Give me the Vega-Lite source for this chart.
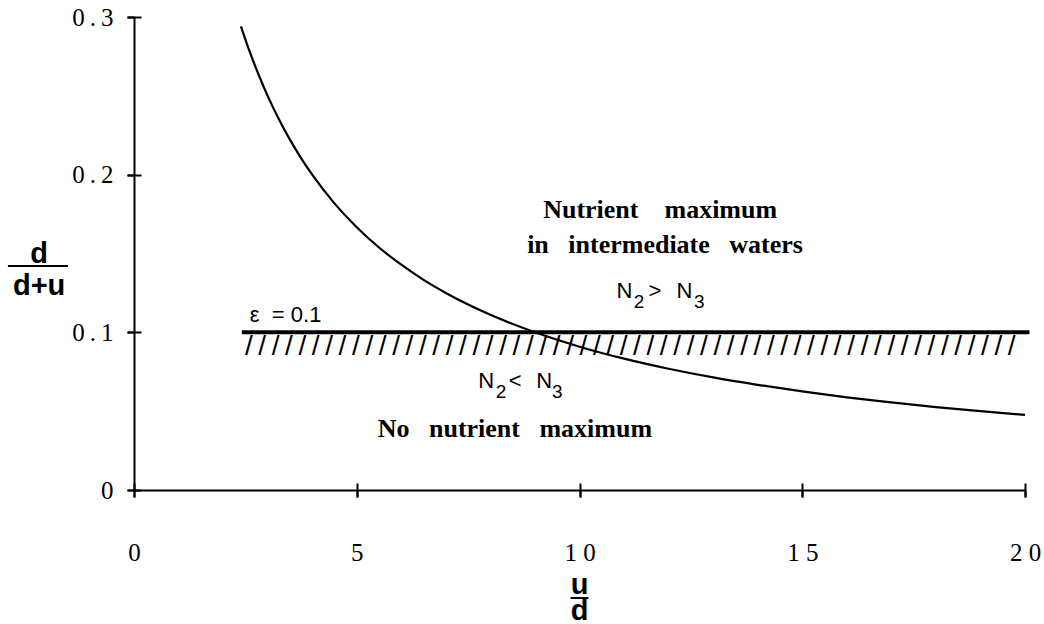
{
  "$schema": "https://vega.github.io/schema/vega-lite/v6.json",
  "width": 891,
  "height": 473,
  "autosize": "none",
  "padding": {"left": 134, "top": 17, "right": 19, "bottom": 134},
  "background": "white",
  "config": {
    "view": {"stroke": null},
    "axis": {"grid": false, "domainColor": "black", "tickColor": "black", "labelColor": "black"}
  },
  "datasets": {
    "curve": [
      {"u_over_d": 2.4, "ratio": 0.2941},
      {"u_over_d": 2.6, "ratio": 0.2778},
      {"u_over_d": 2.8, "ratio": 0.2632},
      {"u_over_d": 3.0, "ratio": 0.25},
      {"u_over_d": 3.25, "ratio": 0.2353},
      {"u_over_d": 3.5, "ratio": 0.2222},
      {"u_over_d": 3.75, "ratio": 0.2105},
      {"u_over_d": 4.0, "ratio": 0.2},
      {"u_over_d": 4.5, "ratio": 0.1818},
      {"u_over_d": 5.0, "ratio": 0.1667},
      {"u_over_d": 5.5, "ratio": 0.1538},
      {"u_over_d": 6.0, "ratio": 0.1429},
      {"u_over_d": 6.5, "ratio": 0.1333},
      {"u_over_d": 7.0, "ratio": 0.125},
      {"u_over_d": 7.5, "ratio": 0.1176},
      {"u_over_d": 8.0, "ratio": 0.1111},
      {"u_over_d": 9.0, "ratio": 0.1},
      {"u_over_d": 10.0, "ratio": 0.0909},
      {"u_over_d": 11.0, "ratio": 0.0833},
      {"u_over_d": 12.0, "ratio": 0.0769},
      {"u_over_d": 13.0, "ratio": 0.0714},
      {"u_over_d": 14.0, "ratio": 0.0667},
      {"u_over_d": 15.0, "ratio": 0.0625},
      {"u_over_d": 16.0, "ratio": 0.0588},
      {"u_over_d": 17.0, "ratio": 0.0556},
      {"u_over_d": 18.0, "ratio": 0.0526},
      {"u_over_d": 19.0, "ratio": 0.05},
      {"u_over_d": 20.0, "ratio": 0.0476}
    ],
    "threshold": [{"x": 2.42, "x2": 20.1, "y": 0.1}],
    "bars": [
      {"x": -2.83, "x2": -1.48, "y": 0.1421},
      {"x": 9.8, "x2": 10.2, "y": -0.0685}
    ],
    "notes": [
      {"kind": "region", "label": "Nutrient\u00a0\u00a0\u00a0\u00a0maximum", "x": 11.81, "y": 0.1725},
      {"kind": "region", "label": "in\u00a0\u00a0\u00a0intermediate\u00a0\u00a0\u00a0waters", "x": 11.92, "y": 0.1503},
      {"kind": "region", "label": "No\u00a0\u00a0\u00a0nutrient\u00a0\u00a0\u00a0maximum", "x": 8.55, "y": 0.0336},
      {"kind": "relation", "label": "N", "x": 10.83, "y": 0.1218},
      {"kind": "sub", "label": "2", "x": 11.22, "y": 0.1154},
      {"kind": "relation", "label": ">", "x": 11.55, "y": 0.1218},
      {"kind": "relation", "label": "N", "x": 12.18, "y": 0.1218},
      {"kind": "sub", "label": "3", "x": 12.57, "y": 0.1154},
      {"kind": "relation", "label": "N", "x": 7.73, "y": 0.0647},
      {"kind": "sub", "label": "2", "x": 8.12, "y": 0.0583},
      {"kind": "relation", "label": "<", "x": 8.41, "y": 0.0647},
      {"kind": "relation", "label": "N", "x": 9.03, "y": 0.0647},
      {"kind": "sub", "label": "3", "x": 9.38, "y": 0.0583},
      {"kind": "epsilon", "label": "\u03b5\u00a0\u00a0=\u00a00.1", "x": 2.6, "y": 0.1066},
      {"kind": "hatch", "label": "/\u2009/\u2009/\u2009/\u2009/\u2009/\u2009/\u2009/\u2009/\u2009/\u2009/\u2009/\u2009/\u2009/\u2009/\u2009/\u2009/\u2009/\u2009/\u2009/\u2009/\u2009/\u2009/\u2009/\u2009/\u2009/\u2009/\u2009/\u2009/\u2009/\u2009/\u2009/\u2009/\u2009/\u2009/\u2009/\u2009/\u2009/\u2009/\u2009/\u2009/\u2009/\u2009/\u2009/\u2009/\u2009/\u2009/\u2009/\u2009/\u2009/\u2009/\u2009/\u2009/\u2009/\u2009/\u2009/\u2009/\u2009/", "x": 2.49, "y": 0.0856},
      {"kind": "title", "label": "d", "x": -2.13, "y": 0.144},
      {"kind": "title", "label": "d+u", "x": -2.13, "y": 0.1237},
      {"kind": "title", "label": "u", "x": 10.0, "y": -0.066},
      {"kind": "title", "label": "d", "x": 10.0, "y": -0.0822}
    ]
  },
  "layer": [
    {
      "data": {"name": "curve"},
      "mark": {"type": "line", "color": "black", "strokeWidth": 2.2, "interpolate": "monotone"},
      "encoding": {
        "x": {
          "field": "u_over_d", "type": "quantitative",
          "scale": {"domain": [0, 20], "nice": false, "zero": true},
          "axis": {
            "orient": "bottom", "values": [0, 5, 10, 15, 20], "title": null,
            "domain": true, "domainWidth": 2, "ticks": true, "tickSize": 7, "tickWidth": 2,
            "labelFont": "Liberation Serif", "labelFontSize": 25, "labelPadding": 43,
            "labelFlush": false, "labelOverlap": false,
            "labelExpr": "datum.value >= 10 ? replace(datum.label, regexp('(.)(?=.)', 'g'), '$1 ') : datum.label"
          }
        },
        "y": {
          "field": "ratio", "type": "quantitative",
          "scale": {"domain": [0, 0.3], "nice": false, "zero": true},
          "axis": {
            "orient": "left", "values": [0, 0.1, 0.2, 0.3], "title": null,
            "domain": true, "domainWidth": 2, "ticks": true, "tickSize": 7, "tickWidth": 2,
            "labelFont": "Liberation Serif", "labelFontSize": 25, "labelPadding": 14,
            "labelFlush": false, "labelOverlap": false, "labelBaseline": "middle",
            "labelExpr": "datum.value == 0 ? '0' : '0\u2009.\u2009' + format(datum.value * 10, 'd')"
          }
        }
      }
    },
    {
      "data": {"name": "threshold"},
      "mark": {"type": "rule", "color": "black", "strokeWidth": 4, "strokeCap": "butt"},
      "encoding": {
        "x": {
          "field": "x", "type": "quantitative",
          "axis": {
            "orient": "bottom", "values": [0, 5, 10, 15, 20], "title": null,
            "domain": false, "labels": false, "ticks": true, "tickSize": 14, "tickWidth": 2, "offset": -7
          }
        },
        "x2": {"field": "x2"},
        "y": {
          "field": "y", "type": "quantitative",
          "axis": {
            "orient": "left", "values": [0, 0.1, 0.2, 0.3], "title": null,
            "domain": false, "labels": false, "ticks": true, "tickSize": 14, "tickWidth": 2, "offset": -7
          }
        }
      }
    },
    {
      "data": {"name": "bars"},
      "mark": {"type": "rule", "color": "black", "strokeWidth": 2},
      "encoding": {
        "x": {"field": "x", "type": "quantitative", "axis": null},
        "x2": {"field": "x2"},
        "y": {"field": "y", "type": "quantitative", "axis": null}
      }
    },
    {
      "data": {"name": "notes"},
      "transform": [{"filter": "datum.kind == 'region'"}],
      "mark": {"type": "text", "font": "Liberation Serif", "fontWeight": "bold", "fontSize": 26, "align": "center", "baseline": "alphabetic", "color": "black"},
      "encoding": {
        "x": {"field": "x", "type": "quantitative", "axis": null},
        "y": {"field": "y", "type": "quantitative", "axis": null},
        "text": {"field": "label"}
      }
    },
    {
      "data": {"name": "notes"},
      "transform": [{"filter": "datum.kind == 'relation'"}],
      "mark": {"type": "text", "font": "Liberation Sans", "fontSize": 22, "align": "left", "baseline": "alphabetic", "color": "black"},
      "encoding": {
        "x": {"field": "x", "type": "quantitative", "axis": null},
        "y": {"field": "y", "type": "quantitative", "axis": null},
        "text": {"field": "label"}
      }
    },
    {
      "data": {"name": "notes"},
      "transform": [{"filter": "datum.kind == 'sub'"}],
      "mark": {"type": "text", "font": "Liberation Sans", "fontSize": 19, "align": "left", "baseline": "alphabetic", "color": "black"},
      "encoding": {
        "x": {"field": "x", "type": "quantitative", "axis": null},
        "y": {"field": "y", "type": "quantitative", "axis": null},
        "text": {"field": "label"}
      }
    },
    {
      "data": {"name": "notes"},
      "transform": [{"filter": "datum.kind == 'epsilon'"}],
      "mark": {"type": "text", "font": "Liberation Sans", "fontSize": 22, "align": "left", "baseline": "alphabetic", "color": "black"},
      "encoding": {
        "x": {"field": "x", "type": "quantitative", "axis": null},
        "y": {"field": "y", "type": "quantitative", "axis": null},
        "text": {"field": "label"}
      }
    },
    {
      "data": {"name": "notes"},
      "transform": [{"filter": "datum.kind == 'hatch'"}],
      "mark": {"type": "text", "font": "Liberation Sans", "fontSize": 28, "align": "left", "baseline": "alphabetic", "color": "black"},
      "encoding": {
        "x": {"field": "x", "type": "quantitative", "axis": null},
        "y": {"field": "y", "type": "quantitative", "axis": null},
        "text": {"field": "label"}
      }
    },
    {
      "data": {"name": "notes"},
      "transform": [{"filter": "datum.kind == 'title'"}],
      "mark": {"type": "text", "font": "Liberation Sans", "fontWeight": "bold", "fontSize": 29, "align": "center", "baseline": "alphabetic", "color": "black"},
      "encoding": {
        "x": {"field": "x", "type": "quantitative", "axis": null},
        "y": {"field": "y", "type": "quantitative", "axis": null},
        "text": {"field": "label"}
      }
    }
  ],
  "resolve": {"axis": {"x": "independent", "y": "independent"}}
}
